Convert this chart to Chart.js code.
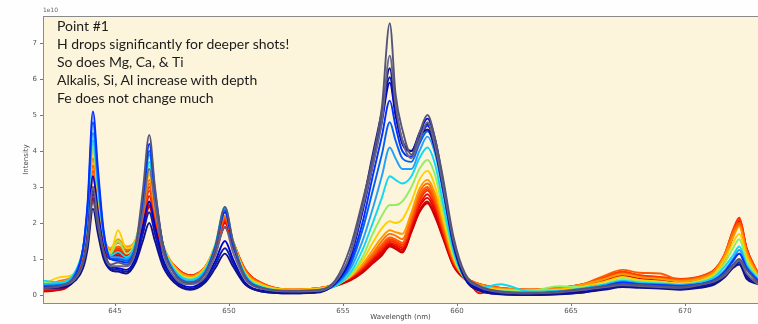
<!DOCTYPE html>
<html>
<head>
<meta charset="utf-8">
<script src="https://cdn.jsdelivr.net/npm/chart.js@4.4.0/dist/chart.umd.min.js"></script>
<style>
html,body{margin:0;padding:0;background:#fff;}
#wrap{position:relative;width:758px;height:324px;overflow:hidden;}
#note{position:absolute;left:57px;top:17px;font-family:Lato,sans-serif;font-size:14px;line-height:18px;color:#1c1c1c;}
#expo{position:absolute;left:43px;top:6px;font-family:"DejaVu Sans",sans-serif;font-size:6px;color:#666;}
</style>
</head>
<body>
<div id="wrap">
<canvas id="graphe" width="758" height="324"></canvas>
<div id="expo">1e10</div>
<div id="note">Point #1<br>H drops significantly for deeper shots!<br>So does Mg, Ca, &amp; Ti<br>Alkalis, Si, Al increase with depth<br>Fe does not change much</div>
</div>
<script>
// wavelength grid (nm) shared by every shot
const wavelengths=[641.85,642.6,643.25,643.6,643.8,644.03,644.25,644.5,644.8,645.13,645.5,645.9,
  646.22,646.5,646.75,647.1,647.6,648.3,648.95,649.4,649.82,650.17,650.7,
  651.45,652.7,654.0,654.65,655.3,655.85,656.3,656.7,
  657.05,657.3,657.6,658.0,658.35,658.7,659.05,659.4,659.85,660.35,
  661.0,661.9,663.2,664.5,665.6,666.5,667.25,668.0,668.9,669.8,670.65,671.3,671.75,672.1,672.38,672.7,673.2];
const xTicks=[645,650,655,660,665,670];
const yTicks=[0,1,2,3,4,5,6,7];

// intensities in units of 1e10, shallow shots first, deep shots last
const shot01=[0.2,0.25,0.5,0.9,1.5,2.6,1.9,1.2,0.85,0.9,0.85,1.35,
  2.9,4.45,3.0,1.4,0.6,0.35,0.6,1.3,2.45,1.5,0.5,
  0.2,0.12,0.15,0.4,1.3,2.6,3.8,5.2,
  7.55,5.6,4.6,3.9,4.5,5.0,4.3,3.2,1.6,0.6,
  0.25,0.1,0.05,0.1,0.18,0.25,0.3,0.28,0.25,0.22,0.3,0.4,0.6,0.85,1.0,0.7,0.35];
const shot02=[0.2,0.25,0.45,0.9,1.6,3.0,2.1,1.2,0.8,0.8,0.8,1.2,
  2.3,3.5,2.5,1.2,0.5,0.3,0.5,1.1,1.9,1.2,0.45,
  0.18,0.1,0.12,0.35,1.1,2.4,3.6,4.8,
  6.65,5.3,4.3,3.8,4.3,4.8,4.1,3.0,1.5,0.55,
  0.22,0.08,0.05,0.08,0.15,0.22,0.28,0.25,0.22,0.2,0.28,0.38,0.55,0.8,0.95,0.6,0.3];
const shot03=[0.2,0.2,0.4,0.75,1.3,2.4,1.7,1.0,0.7,0.65,0.6,0.9,
  1.5,2.0,1.5,0.8,0.35,0.15,0.35,0.75,1.15,0.8,0.3,
  0.1,0.05,0.1,0.35,1.1,2.5,3.9,5.1,
  6.3,5.2,4.3,4.0,4.4,4.6,4.0,2.9,1.4,0.45,
  0.12,0.02,0.0,0.02,0.08,0.15,0.22,0.2,0.18,0.15,0.2,0.3,0.5,0.75,0.85,0.45,0.3];
const shot04=[0.22,0.22,0.42,0.8,1.45,2.9,2.0,1.15,0.75,0.7,0.65,0.95,
  1.7,2.3,1.7,0.9,0.4,0.18,0.4,0.85,1.3,0.9,0.32,
  0.1,0.05,0.08,0.35,1.05,2.4,3.8,5.0,
  6.05,5.1,4.25,4.0,4.45,4.75,4.1,3.0,1.45,0.48,
  0.12,0.03,0.0,0.03,0.08,0.18,0.25,0.22,0.2,0.18,0.22,0.32,0.52,0.78,0.9,0.5,0.32];
const shot05=[0.2,0.22,0.45,0.9,1.7,3.3,2.3,1.3,0.8,0.75,0.7,1.05,
  1.9,2.6,1.9,1.0,0.45,0.22,0.45,0.95,1.5,1.0,0.35,
  0.12,0.06,0.1,0.32,1.0,2.3,3.6,4.8,
  5.9,5.0,4.2,4.0,4.5,4.9,4.3,3.1,1.5,0.5,
  0.15,0.05,0.02,0.05,0.1,0.2,0.28,0.25,0.22,0.2,0.25,0.35,0.55,0.8,0.95,0.55,0.35];
const shot06=[0.22,0.25,0.55,1.3,2.6,5.1,3.5,1.8,1.0,0.95,0.9,1.3,
  2.5,4.2,2.9,1.4,0.6,0.32,0.6,1.3,2.3,1.4,0.5,
  0.18,0.08,0.12,0.32,0.9,2.0,3.3,4.4,
  5.4,4.7,4.0,3.85,4.3,4.7,4.15,3.0,1.4,0.5,
  0.2,0.08,0.05,0.08,0.15,0.25,0.35,0.3,0.28,0.25,0.3,0.42,0.65,0.95,1.15,0.75,0.4];
const shot07=[0.25,0.28,0.55,1.3,2.5,4.8,3.3,1.7,1.0,1.0,0.95,1.35,
  2.5,4.0,2.8,1.4,0.62,0.35,0.62,1.35,2.35,1.45,0.52,
  0.2,0.1,0.12,0.3,0.8,1.8,2.9,3.9,
  4.8,4.3,3.8,3.7,4.2,4.55,4.05,2.9,1.35,0.48,
  0.2,0.08,0.05,0.08,0.15,0.25,0.35,0.3,0.28,0.25,0.3,0.42,0.65,0.95,1.15,0.75,0.4];
const shot08=[0.3,0.3,0.6,1.3,2.4,4.5,3.1,1.7,1.05,1.05,1.0,1.4,
  2.5,3.9,2.7,1.4,0.65,0.38,0.65,1.35,2.4,1.45,0.55,
  0.2,0.1,0.12,0.28,0.7,1.5,2.4,3.3,
  4.1,3.8,3.5,3.5,4.0,4.4,3.9,2.8,1.3,0.48,
  0.2,0.1,0.08,0.1,0.18,0.28,0.38,0.32,0.3,0.28,0.32,0.45,0.7,1.0,1.25,0.8,0.42];
const shot09=[0.4,0.35,0.65,1.3,2.3,4.3,3.0,1.7,1.1,1.2,1.05,1.45,
  2.5,3.7,2.6,1.4,0.7,0.42,0.7,1.4,2.45,1.5,0.58,
  0.22,0.12,0.15,0.25,0.6,1.25,2.0,2.7,
  3.3,3.2,3.1,3.3,3.8,4.1,3.6,2.5,1.2,0.45,
  0.2,0.3,0.1,0.12,0.2,0.3,0.4,0.35,0.32,0.28,0.35,0.5,0.8,1.1,1.35,0.85,0.45];
const shot10=[0.35,0.3,0.6,1.3,2.3,4.2,2.9,1.7,1.15,1.5,1.15,1.5,
  2.5,3.6,2.6,1.4,0.72,0.45,0.72,1.4,2.4,1.5,0.6,
  0.25,0.12,0.15,0.25,0.55,1.05,1.7,2.2,
  2.5,2.5,2.6,3.0,3.5,3.75,3.3,2.3,1.1,0.45,
  0.22,0.12,0.12,0.25,0.22,0.32,0.45,0.38,0.35,0.3,0.38,0.55,0.9,1.3,1.55,0.95,0.5];
const shot11=[0.3,0.5,0.6,1.3,2.3,4.1,2.9,1.7,1.2,1.8,1.3,1.5,
  2.4,3.4,2.5,1.4,0.75,0.48,0.75,1.4,2.35,1.5,0.62,
  0.28,0.15,0.18,0.28,0.52,0.95,1.45,1.85,
  2.05,2.0,2.1,2.6,3.2,3.45,3.0,2.1,1.05,0.45,
  0.25,0.15,0.12,0.15,0.25,0.38,0.5,0.42,0.38,0.32,0.4,0.6,1.0,1.45,1.7,1.05,0.5];
const shot12=[0.3,0.35,0.6,1.25,2.25,4.05,2.8,1.65,1.3,1.55,1.35,1.55,
  2.4,3.35,2.45,1.4,0.8,0.52,0.78,1.4,2.3,1.5,0.65,
  0.3,0.15,0.2,0.3,0.5,0.85,1.25,1.6,
  1.8,1.75,1.7,2.3,2.95,3.2,2.8,2.0,1.0,0.48,
  0.28,0.18,0.15,0.18,0.3,0.45,0.58,0.5,0.45,0.38,0.45,0.65,1.1,1.6,1.9,1.15,0.55];
const shot13=[0.25,0.4,0.58,1.2,2.1,3.8,2.65,1.55,1.25,1.45,1.3,1.5,
  2.3,3.2,2.35,1.4,0.8,0.52,0.78,1.38,2.2,1.5,0.68,
  0.3,0.15,0.2,0.3,0.5,0.82,1.15,1.5,
  1.7,1.65,1.55,2.2,2.85,3.1,2.7,1.9,0.98,0.48,
  0.3,0.18,0.15,0.2,0.3,0.46,0.6,0.5,0.46,0.4,0.48,0.68,1.12,1.7,1.95,1.2,0.58];
const shot14=[0.2,0.25,0.55,1.15,2.0,3.6,2.5,1.5,1.2,1.35,1.25,1.5,
  2.2,3.1,2.3,1.35,0.8,0.52,0.78,1.35,2.15,1.5,0.7,
  0.32,0.15,0.2,0.3,0.5,0.8,1.1,1.4,
  1.6,1.55,1.45,2.1,2.75,3.0,2.6,1.85,0.95,0.5,
  0.3,0.2,0.15,0.2,0.32,0.55,0.7,0.62,0.6,0.42,0.5,0.7,1.15,1.75,2.0,1.25,0.6];
const shot15=[0.2,0.25,0.55,1.12,1.95,3.45,2.45,1.5,1.18,1.3,1.2,1.48,
  2.15,3.0,2.25,1.32,0.8,0.54,0.78,1.32,2.12,1.5,0.72,
  0.32,0.14,0.2,0.3,0.48,0.78,1.08,1.35,
  1.55,1.5,1.4,2.05,2.68,2.95,2.55,1.8,0.92,0.5,
  0.3,0.2,0.14,0.2,0.3,0.5,0.64,0.54,0.5,0.44,0.5,0.7,1.15,1.78,2.1,1.28,0.6];
const shot16=[0.18,0.22,0.55,1.1,1.9,3.3,2.4,1.5,1.15,1.25,1.15,1.45,
  2.1,2.9,2.2,1.3,0.82,0.55,0.78,1.3,2.1,1.5,0.72,
  0.33,0.15,0.2,0.3,0.48,0.75,1.05,1.3,
  1.5,1.45,1.35,2.0,2.6,2.9,2.5,1.75,0.9,0.5,
  0.3,0.2,0.15,0.2,0.32,0.5,0.65,0.55,0.5,0.45,0.52,0.72,1.15,1.8,2.15,1.3,0.6];
const shot17=[0.15,0.2,0.52,1.05,1.8,3.0,2.2,1.4,1.1,1.2,1.1,1.4,
  2.0,2.75,2.1,1.3,0.82,0.55,0.78,1.3,2.05,1.45,0.72,
  0.32,0.15,0.2,0.3,0.48,0.72,1.0,1.25,
  1.45,1.4,1.3,1.95,2.5,2.8,2.4,1.7,0.88,0.5,
  0.05,0.18,0.15,0.2,0.3,0.48,0.62,0.52,0.48,0.42,0.5,0.7,1.1,1.75,2.1,1.3,0.6];
const shot18=[0.12,0.18,0.5,1.0,1.7,2.8,2.1,1.35,1.05,1.15,1.05,1.35,
  1.9,2.6,2.0,1.25,0.8,0.52,0.75,1.25,2.0,1.4,0.7,
  0.3,0.12,0.18,0.28,0.45,0.7,0.95,1.2,
  1.42,1.35,1.25,1.9,2.45,2.7,2.3,1.65,0.85,0.48,
  0.28,0.15,0.12,0.18,0.28,0.45,0.6,0.5,0.45,0.4,0.48,0.68,1.05,1.7,2.05,1.25,0.55];
const shot19=[0.1,0.15,0.45,0.95,1.6,2.65,2.0,1.3,1.0,1.1,1.0,1.3,
  1.8,2.5,1.95,1.2,0.78,0.5,0.72,1.2,1.9,1.35,0.68,
  0.28,0.1,0.15,0.25,0.42,0.65,0.9,1.15,
  1.38,1.3,1.2,1.8,2.35,2.6,2.2,1.6,0.82,0.45,
  0.25,0.12,0.1,0.15,0.25,0.42,0.55,0.48,0.42,0.38,0.45,0.65,1.0,1.65,2.0,1.2,0.5];
const shot20=[0.15,0.15,0.45,0.9,1.55,2.7,2.0,1.28,1.0,1.08,1.0,1.28,
  1.75,2.45,1.9,1.2,0.78,0.5,0.72,1.18,1.88,1.35,0.66,
  0.27,0.1,0.14,0.25,0.4,0.62,0.88,1.1,
  1.35,1.28,1.18,1.75,2.3,2.55,2.15,1.55,0.8,0.44,
  0.24,0.12,0.1,0.15,0.24,0.4,0.54,0.46,0.42,0.38,0.45,0.64,1.0,1.62,1.98,1.2,0.5];

const shots=[shot01,shot02,shot03,shot04,shot05,shot06,shot07,shot08,shot09,shot10,
  shot11,shot12,shot13,shot14,shot15,shot16,shot17,shot18,shot19,shot20];
const shotColors=["#55557a","#66668a","#10108c","#0818b0","#0000d0","#0030ff","#0060f8","#20a0ff","#10d8f0","#90ee60",
  "#ffd000","#ff9a00","#ff7000","#ff5a00","#ff3c00","#ff2a00","#f01000","#e00000","#d00000","#c80000"];

const frame={
  id:"frame",
  beforeDraw(chart){
    const {ctx,chartArea:a}=chart;
    ctx.save();
    ctx.fillStyle="#fefefe";
    ctx.fillRect(0,0,chart.width,chart.height);
    ctx.fillStyle="#fdf4dc";
    ctx.fillRect(a.left,a.top,a.right-a.left,a.bottom-a.top);
    ctx.restore();
  },
  afterDraw(chart){
    const {ctx,chartArea:a}=chart;
    ctx.save();
    ctx.strokeStyle="#8a8a8a";
    ctx.lineWidth=1;
    ctx.strokeRect(a.left+0.5,a.top+0.5,a.right-a.left,a.bottom-a.top);
    ctx.restore();
  }
};

var ctx=document.getElementById("graphe");
var chart=new Chart(ctx,{
  type:"line",
  data:{
    datasets:shots.map((s,i)=>({
      label:"shot "+(i+1),
      data:s.map((v,j)=>({x:wavelengths[j],y:v})),
      borderColor:shotColors[i],
      borderWidth:1.9,
      pointRadius:0,
      cubicInterpolationMode:"monotone"
    }))
  },
  options:{
    responsive:false,
    animation:false,
    devicePixelRatio:1,
    layout:{padding:{top:16,right:0,left:0,bottom:0}},
    plugins:{legend:{display:false},tooltip:{enabled:false}},
    scales:{
      x:{
        type:"linear",min:641.84,max:673.2,
        afterBuildTicks:s=>{s.ticks=xTicks.map(v=>({value:v}));},
        afterFit:s=>{s.height=21;},
        grid:{drawOnChartArea:false,tickLength:3,color:"#777"},
        border:{display:false},
        ticks:{font:{size:7,family:"DejaVu Sans"},color:"#555",padding:1},
        title:{display:true,text:"Wavelength (nm)",font:{size:7,family:"DejaVu Sans"},color:"#444",padding:{top:0,bottom:2.5}}
      },
      y:{
        min:-0.22,max:7.75,
        afterBuildTicks:s=>{s.ticks=yTicks.map(v=>({value:v}));},
        afterFit:s=>{s.width=43;},
        grid:{drawOnChartArea:false,tickLength:3,color:"#777"},
        border:{display:false},
        ticks:{font:{size:7,family:"DejaVu Sans"},color:"#555",padding:3},
        title:{display:true,text:"Intensity",font:{size:7,family:"DejaVu Sans"},color:"#444",padding:{top:22,bottom:0}}
      }
    }
  },
  plugins:[frame]
});
</script>
</body>
</html>
